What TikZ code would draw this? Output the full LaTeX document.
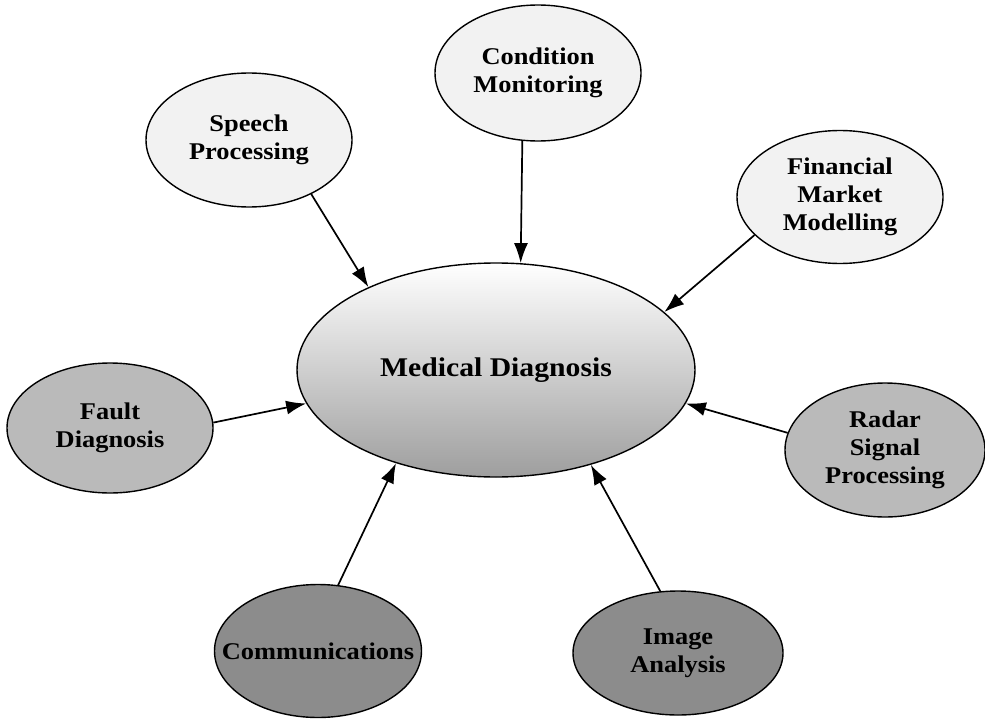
\documentclass[tikz,border=0pt]{standalone}
\usepackage{fontspec}
\setmainfont{Liberation Serif}[FakeStretch=1.1]
\usetikzlibrary{shapes.geometric,arrows.meta}

\tikzset{
  topic/.style={ellipse, draw=black, line width=1.4pt, inner sep=0pt,
    align=center, font=\fontsize{24}{28}\selectfont\bfseries},
  light/.style={topic, fill=black!5},
  mid/.style={topic, fill=black!27},
  dark/.style={topic, fill=black!45},
  hub/.style={ellipse, draw=black, line width=1.4pt, inner sep=0pt,
    top color=white, middle color=white, bottom color=black!38,
    font=\fontsize{27}{30}\selectfont\bfseries},
  feed/.style={line width=1.7pt, -{Latex[length=20pt,width=14pt]}}
}

\begin{document}
\begin{tikzpicture}[x=1pt,y=-1pt]
  \useasboundingbox (0,0) rectangle (985,725);

  % central topic
  \node[hub, minimum width=398pt, minimum height=214pt, inner xsep=-60pt] (md) at (496,370) {Medical Diagnosis};

  % application areas around it
  \node[light, minimum width=206pt, minimum height=134pt] (sp) at (249,140) {Speech\\Processing};
  \node[light, minimum width=206pt, minimum height=136pt] (cm) at (538,73) {Condition\\Monitoring};
  \node[light, minimum width=206pt, minimum height=133pt] (fm) at (840,197) {Financial\\Market\\Modelling};
  \node[mid, minimum width=206pt, minimum height=130pt] (fd) at (110,428) {Fault\\Diagnosis};
  \node[mid, minimum width=200pt, minimum height=134pt] (rs) at (885,450) {Radar\\Signal\\Processing};
  % the long single-line label nearly fills its ellipse, so shrink the
  % automatic sizing and let the minimum size decide
  \node[dark, minimum width=207pt, minimum height=133pt, inner xsep=-30pt] (co) at (318,651) {Communications};
  \node[dark, minimum width=210pt, minimum height=124pt] (ia) at (678,653) {Image\\Analysis};

  % arrows into the central topic
  \draw[feed] (sp.-41)  -- (md.147);
  \draw[feed] (cm.257)  -- (md.77);
  \draw[feed] (fm.204)  -- (md.19.5);
  \draw[feed] (fd.3)    -- (md.190);
  \draw[feed] (rs.170)  -- (md.-10.5);
  \draw[feed] (co.73)   -- (md.223);
  \draw[feed] (ia.106)  -- (md.-45);
\end{tikzpicture}
\end{document}
